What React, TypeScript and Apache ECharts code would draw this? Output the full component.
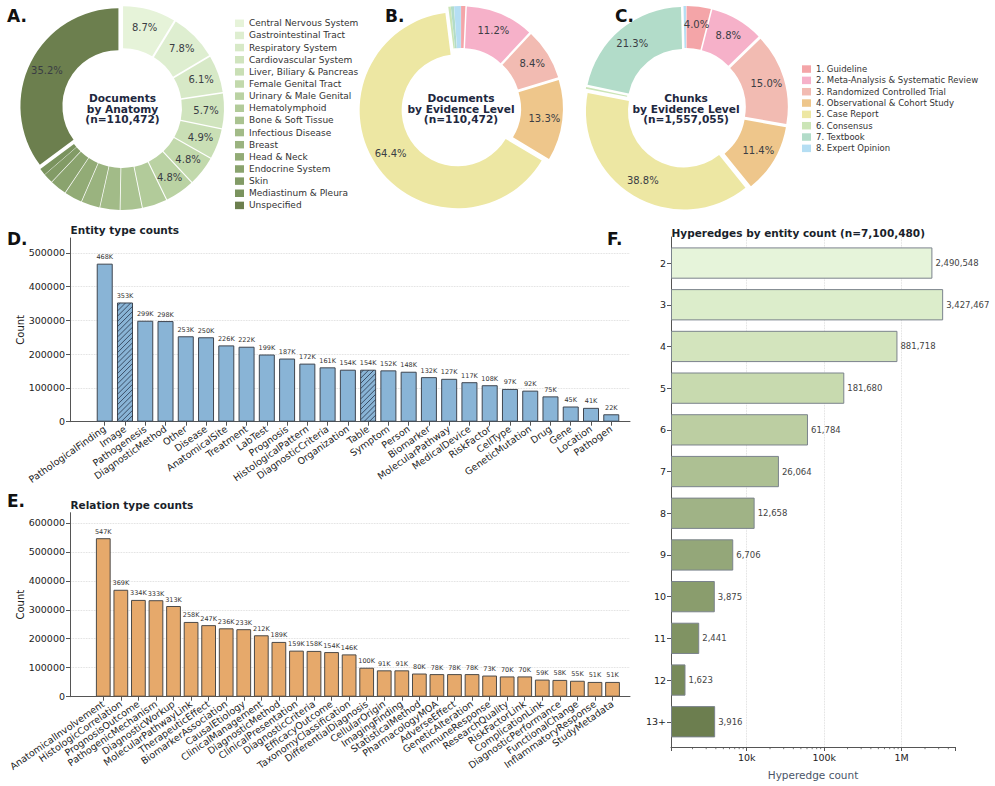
import React, { useEffect, useRef } from 'react';
import * as echarts from 'echarts';

const FONT = '"DejaVu Sans", Verdana, sans-serif';

// ---------- Panel A ----------
const anatomyNames = [
  'Central Nervous System', 'Gastrointestinal Tract', 'Respiratory System', 'Cardiovascular System',
  'Liver, Biliary & Pancreas', 'Female Genital Tract', 'Urinary & Male Genital', 'Hematolymphoid',
  'Bone & Soft Tissue', 'Infectious Disease', 'Breast', 'Head & Neck', 'Endocrine System', 'Skin',
  'Mediastinum & Pleura', 'Unspecified',
];
const anatomyShares = [8.7, 7.8, 6.1, 5.7, 4.9, 4.8, 4.8, 4.0, 3.5, 3.2, 3.0, 2.9, 2.7, 1.6, 1.1, 35.2];
const anatomyColors = [
  '#e6f3d9', '#deeed0', '#d7e9c7', '#d0e4be', '#c9dfb5', '#c2d9ac', '#bad2a3', '#b2cb9a',
  '#aac391', '#a2bb88', '#9ab37f', '#92ab76', '#8aa36e', '#829b66', '#7a935e', '#6c7f4e',
];

// ---------- Panels B & C ----------
const evidenceNames = [
  '1. Guideline', '2. Meta-Analysis & Systematic Review', '3. Randomized Controlled Trial',
  '4. Observational & Cohort Study', '5. Case Report', '6. Consensus', '7. Textbook', '8. Expert Opinion',
];
const evidenceDocShares = [0.7, 11.2, 8.4, 13.3, 64.4, 0.4, 0.5, 1.1];
const evidenceChunkShares = [4.0, 8.8, 15.0, 11.4, 38.8, 0.3, 21.3, 0.4];
const evidenceColors = ['#f4a5a8', '#f6b1c9', '#f2bbb2', '#eec68b', '#ede7a3', '#cbe5b7', '#b2dcc9', '#b5def3'];

// ---------- Panel D ----------
const entityTypes = [
  'PathologicalFinding', 'Image', 'Pathogenesis', 'DiagnosticMethod', 'Other', 'Disease', 'AnatomicalSite',
  'Treatment', 'LabTest', 'Prognosis', 'HistologicalPattern', 'DiagnosticCriteria', 'Organization', 'Table',
  'Symptom', 'Person', 'Biomarker', 'MolecularPathway', 'MedicalDevice', 'RiskFactor', 'CellType',
  'GeneticMutation', 'Drug', 'Gene', 'Location', 'Pathogen',
];
const entityCounts = [
  468000, 353000, 299000, 298000, 253000, 250000, 226000, 222000, 199000, 187000, 172000, 161000, 154000,
  154000, 152000, 148000, 132000, 127000, 117000, 108000, 97000, 92000, 75000, 45000, 41000, 22000,
];
const hatchedEntities = ['Image', 'Table'];

// ---------- Panel E ----------
const relationTypes = [
  'AnatomicalInvolvement', 'HistologicCorrelation', 'PrognosisOutcome', 'PathogenicMechanism',
  'DiagnosticWorkup', 'MolecularPathwayLink', 'TherapeuticEffect', 'BiomarkerAssociation', 'CausalEtiology',
  'ClinicalManagement', 'DiagnosticMethod', 'ClinicalPresentation', 'DiagnosticCriteria', 'EfficacyOutcome',
  'TaxonomyClassification', 'DifferentialDiagnosis', 'CellularOrigin', 'ImagingFinding', 'StatisticalMethod',
  'PharmacologyMOA', 'AdverseEffect', 'GeneticAlteration', 'ImmuneResponse', 'ResearchQuality',
  'RiskFactorLink', 'ComplicationLink', 'DiagnosticPerformance', 'FunctionalChange', 'InflammatoryResponse',
  'StudyMetadata',
];
const relationCounts = [
  547000, 369000, 334000, 333000, 313000, 258000, 247000, 236000, 233000, 212000, 189000, 159000, 158000,
  154000, 146000, 100000, 91000, 91000, 80000, 78000, 78000, 78000, 73000, 70000, 70000, 59000, 58000,
  55000, 51000, 51000,
];

// ---------- Panel F ----------
const edgeSizes = ['2', '3', '4', '5', '6', '7', '8', '9', '10', '11', '12', '13+'];
const edgeCounts = [2490548, 3427467, 881718, 181680, 61784, 26064, 12658, 6706, 3875, 2441, 1623, 3916];
const edgeColors = [
  '#e6f4da', '#dcedcb', '#d3e4bd', '#c8daaf', '#bccea2', '#adc093', '#a0b386', '#94a779',
  '#8a9d6d', '#809363', '#778a5a', '#6c7e4f',
];
const logMajorLabels: Record<number, string> = { 4: '10k', 5: '100k', 6: '1M' };
const logMinorTicks = [
  2000, 3000, 4000, 5000, 6000, 7000, 8000, 9000,
  20000, 30000, 40000, 50000, 60000, 70000, 80000, 90000,
  200000, 300000, 400000, 500000, 600000, 700000, 800000, 900000,
  2000000, 3000000, 4000000,
];

const AXIS = '#555';
const TXT = '#222';
const D_BAR_WIDTH = 0.79;

function pieSeries(center: number[], names: string[], values: number[], colors: string[]) {
  return {
    type: 'pie',
    center,
    radius: [56, 98],
    startAngle: 90,
    clockwise: true,
    selectedMode: 'multiple',
    selectedOffset: 4,
    avoidLabelOverlap: false,
    emphasis: { disabled: true },
    select: { itemStyle: { borderWidth: 0 } },
    itemStyle: { borderWidth: 0 },
    label: {
      show: true,
      position: 'inside',
      fontSize: 10,
      color: '#3a3d44',
      fontFamily: FONT,
      formatter: (p: any) => `${Number(p.value).toFixed(1)}%`,
    },
    labelLine: { show: false },
    data: names.map((n, i) => ({
      name: n,
      value: values[i],
      selected: true,
      itemStyle: { color: colors[i] },
      label: { show: values[i] >= 3.95 },
    })),
  };
}

function kLabel(p: any) {
  return `${Math.round(p.value / 1000)}K`;
}

function frameX(gridIndex: number) {
  return {
    type: 'value', gridIndex, min: 0, max: 1,
    axisLine: { show: true, lineStyle: { color: AXIS, width: 1 } },
    axisTick: { show: false }, axisLabel: { show: false }, splitLine: { show: false },
  };
}

function countY(gridIndex: number, max: number) {
  return {
    type: 'value', gridIndex, min: 0, max, interval: 100000,
    name: 'Count', nameLocation: 'middle', nameGap: 45, nameMoveOverlap: false,
    nameTextStyle: { fontSize: 10, color: TXT, fontFamily: FONT },
    axisLine: { show: true, lineStyle: { color: AXIS, width: 1 } },
    axisTick: { show: true, length: 4, lineStyle: { color: AXIS } },
    axisLabel: {
      fontSize: 9.5, color: TXT, fontFamily: FONT, margin: 5, showMaxLabel: false,
      formatter: (v: number) => String(Math.round(v)),
    },
    splitLine: { show: true, showMinLine: false, showMaxLine: false, lineStyle: { type: 'dotted', color: '#d4d4d4', width: 0.8 } },
  };
}

function catX(gridIndex: number, data: string[]) {
  return {
    type: 'category', gridIndex, data,
    axisLine: { show: false },
    axisTick: { show: true, alignWithLabel: true, length: 4, lineStyle: { color: AXIS } },
    axisLabel: { interval: 0, rotate: 35, fontSize: 9.5, color: TXT, fontFamily: FONT, margin: 6 },
  };
}

function hiddenY(gridIndex: number, max: number) {
  return { type: 'value', gridIndex, min: 0, max, show: false };
}

export default function App() {
  const ref = useRef<HTMLDivElement>(null);

  useEffect(() => {
    if (!ref.current) return;
    const chart = echarts.init(ref.current, undefined, { renderer: 'svg' });

    const letter = (t: string, x: number, y: number) => ({
      type: 'text', x, y,
      style: { text: t, fontFamily: FONT, fontSize: 17, fontWeight: 'bold', fill: '#111', verticalAlign: 'middle' },
    });
    const title = (t: string, x: number, y: number) => ({
      type: 'text', x, y,
      style: { text: t, fontFamily: FONT, fontSize: 10.5, fontWeight: 'bold', fill: '#1a1f2b', verticalAlign: 'middle' },
    });
    const centerText = (t: string, x: number, y: number) => ({
      type: 'text', x, y,
      style: {
        text: t, fontFamily: FONT, fontSize: 10.6, fontWeight: 'bold', fill: '#1e2840',
        align: 'center', verticalAlign: 'middle', lineHeight: 10.6,
      },
    });

    // Hatched bars: same values as the main series, others left empty.
    const hatchValues = entityCounts.map((v, i) => (hatchedEntities.includes(entityTypes[i]) ? v : '-'));

    const option: any = {
      animation: false,
      backgroundColor: '#ffffff',
      textStyle: { fontFamily: FONT },
      legend: [
        {
          orient: 'vertical', left: 235, top: 17.8, padding: 0,
          itemWidth: 9, itemHeight: 7.5, itemGap: 1.14, icon: 'rect', selectedMode: false,
          data: anatomyNames,
          textStyle: { fontSize: 9, color: '#333', fontFamily: FONT, lineHeight: 11 },
        },
        {
          orient: 'vertical', left: 802, top: 63.8, padding: 0,
          itemWidth: 9, itemHeight: 7.5, itemGap: 0.83, icon: 'rect', selectedMode: false,
          data: evidenceNames,
          textStyle: { fontSize: 8.5, color: '#333', fontFamily: FONT, lineHeight: 10.5 },
        },
      ],
      grid: [
        { left: 70, right: 365, top: 238, bottom: 364.3, outerBoundsMode: 'none' },
        { left: 94.6, right: 373.6, top: 238, bottom: 364.3, outerBoundsMode: 'none' },
        { left: 70, right: 365, top: 512.7, bottom: 89.3, outerBoundsMode: 'none' },
        { left: 94.5, right: 373.7, top: 512.7, bottom: 89.3, outerBoundsMode: 'none' },
        { left: 671, right: 40, top: 237, bottom: 39, outerBoundsMode: 'none' },
        { left: 671, right: 40, top: 242.2, bottom: 43.4, outerBoundsMode: 'none' },
      ],
      xAxis: [
        frameX(0),
        catX(1, entityTypes),
        frameX(2),
        catX(3, relationTypes),
        {
          type: 'log', logBase: 10, gridIndex: 4, min: 1055, max: 4875000,
          name: 'Hyperedge count', nameLocation: 'middle', nameGap: 22, nameMoveOverlap: false,
          nameTextStyle: { fontSize: 10.5, color: '#4a5568', fontFamily: FONT },
          axisLine: { show: true, lineStyle: { color: AXIS, width: 1 } },
          axisTick: { show: true, length: 4, lineStyle: { color: AXIS } },
          axisLabel: {
            fontSize: 9.5, color: TXT, fontFamily: FONT, margin: 5,
            formatter: (v: number) => {
              const e = Math.log10(v);
              const r = Math.round(e);
              return Math.abs(e - r) < 1e-6 && logMajorLabels[r] ? logMajorLabels[r] : '';
            },
          },
          splitLine: { show: true, showMinLine: false, showMaxLine: false, lineStyle: { type: 'dotted', color: '#d4d4d4', width: 0.8 } },
        },
        { type: 'log', logBase: 10, gridIndex: 5, min: 1055, max: 4875000, startValue: 1055, show: false },
      ],
      yAxis: [
        countY(0, 544000),
        hiddenY(1, 544000),
        countY(2, 635000),
        hiddenY(3, 635000),
        {
          type: 'value', gridIndex: 4, min: 0, max: 1,
          axisLine: { show: true, lineStyle: { color: AXIS, width: 1 } },
          axisTick: { show: false }, axisLabel: { show: false }, splitLine: { show: false },
        },
        {
          type: 'category', gridIndex: 5, data: edgeSizes, inverse: true,
          axisLine: { show: false },
          axisTick: { show: true, alignWithLabel: true, length: 4, lineStyle: { color: AXIS } },
          axisLabel: { fontSize: 9.5, color: TXT, fontFamily: FONT, margin: 5 },
        },
      ],
      series: [
        pieSeries([122, 108], anatomyNames, anatomyShares, anatomyColors),
        pieSeries([461, 108], evidenceNames, evidenceDocShares, evidenceColors),
        pieSeries([686, 108], evidenceNames, evidenceChunkShares, evidenceColors),
        {
          type: 'bar', xAxisIndex: 1, yAxisIndex: 1, barWidth: `${D_BAR_WIDTH * 100}%`,
          itemStyle: { color: '#89b4d6', borderColor: '#3f4650', borderWidth: 1 },
          label: { show: true, position: 'top', distance: 3, fontSize: 6.5, color: '#333', fontFamily: FONT, formatter: kLabel },
          emphasis: { disabled: true },
          data: entityCounts,
        },
        {
          type: 'custom', xAxisIndex: 1, yAxisIndex: 1, silent: true, z: 10,
          encode: { x: 0, y: 1 },
          data: hatchValues.map((v, i) => [i, v]),
          renderItem: (_params: any, api: any) => {
            const val = api.value(1);
            if (!(val > 0)) return null;
            const idx = api.value(0);
            const top = api.coord([idx, val]);
            const base = api.coord([idx, 0]);
            const bw = api.size([1, 0])[0] * D_BAR_WIDTH;
            const x0 = top[0] - bw / 2 + 0.6;
            const x1 = top[0] + bw / 2 - 0.6;
            const y0 = top[1] + 0.6;
            const y1 = base[1] - 0.6;
            const step = 5.2;
            const children: any[] = [];
            for (let c = x0 + y0 + step / 2; c < x1 + y1; c += step) {
              const xa = Math.max(x0, c - y1);
              const xb = Math.min(x1, c - y0);
              if (xb > xa) {
                children.push({
                  type: 'line',
                  shape: { x1: xa, y1: c - xa, x2: xb, y2: c - xb },
                  style: { stroke: 'rgba(28,38,58,0.9)', lineWidth: 0.8 },
                });
              }
            }
            return { type: 'group', children };
          },
        },
        {
          type: 'bar', xAxisIndex: 3, yAxisIndex: 3, barWidth: '84%',
          itemStyle: { color: '#e6a96b', borderColor: '#4d4a47', borderWidth: 1 },
          label: { show: true, position: 'top', distance: 3, fontSize: 6.5, color: '#333', fontFamily: FONT, formatter: kLabel },
          emphasis: { disabled: true },
          data: relationCounts,
        },
        {
          type: 'bar', xAxisIndex: 5, yAxisIndex: 5, barWidth: '75%',
          itemStyle: { borderColor: '#7b838c', borderWidth: 1 },
          label: {
            show: true, position: 'right', distance: 3, fontSize: 8.5, color: '#444', fontFamily: FONT,
            formatter: (p: any) => Number(p.value).toLocaleString('en-US'),
          },
          emphasis: { disabled: true },
          data: edgeCounts.map((v, i) => ({ value: v, itemStyle: { color: edgeColors[i] } })),
        },
        {
          type: 'custom', xAxisIndex: 4, yAxisIndex: 4, silent: true, clip: false, z: 10,
          encode: { x: 0, y: 1 },
          data: logMinorTicks.map((v) => [v, 0]),
          renderItem: (_params: any, api: any) => {
            const p = api.coord([api.value(0), 0]);
            return {
              type: 'line',
              shape: { x1: p[0], y1: p[1], x2: p[0], y2: p[1] + 2.2 },
              style: { stroke: AXIS, lineWidth: 0.8 },
            };
          },
        },
      ],
      graphic: [
        letter('A.', 7, 15.5),
        letter('B.', 385, 15.5),
        letter('C.', 615, 16),
        letter('D.', 7, 238.5),
        letter('E.', 7, 500.5),
        letter('F.', 607, 238.5),
        title('Entity type counts', 70.5, 230),
        title('Relation type counts', 70.5, 505),
        title('Hyperedges by entity count (n=7,100,480)', 671.5, 232.5),
        centerText('Documents\nby Anatomy\n(n=110,472)', 122.5, 108.5),
        centerText('Documents\nby Evidence Level\n(n=110,472)', 461, 108.5),
        centerText('Chunks\nby Evidence Level\n(n=1,557,055)', 686, 108.5),
      ],
    };

    chart.setOption(option);
    return () => chart.dispose();
  }, []);

  return (
    <div
      ref={ref}
      style={{ position: 'fixed', left: 0, top: 0, width: 995, height: 786, background: '#fff' }}
    />
  );
}
